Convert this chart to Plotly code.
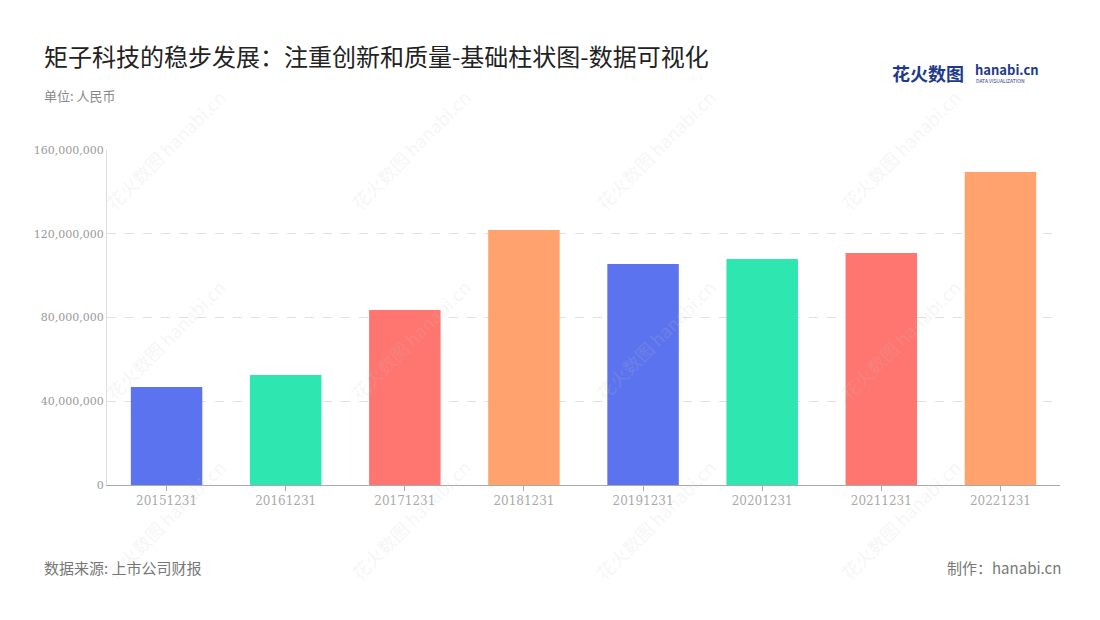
import plotly.graph_objects as go

categories = ["20151231","20161231","20171231","20181231","20191231","20201231","20211231","20221231"]
values = [46800000, 52500000, 83600000, 121800000, 105600000, 107900000, 110800000, 149500000]
colors = ["#5B73EE","#2EE6B0","#FF7570","#FFA26E","#5B73EE","#2EE6B0","#FF7570","#FFA26E"]
tick_vals = [0, 40000000, 80000000, 120000000, 160000000]
tick_text = ["0","40,000,000","80,000,000","120,000,000","160,000,000"]

font = "Noto Sans CJK SC"
OFF = 8  # browser body margin
L, R, T, B = 107, 40, 150, 135
fig = go.Figure(go.Bar(x=categories, y=values, marker=dict(color=colors, line=dict(width=0)), width=0.6))
fig.update_layout(
    width=1100, height=620, paper_bgcolor="white", plot_bgcolor="white",
    margin=dict(l=L-OFF, r=R+OFF, t=T-OFF, b=B+OFF), showlegend=False,
    font=dict(family=font),
    xaxis=dict(type="category", showline=True, linecolor="#aaaaaa", ticks="outside", ticklen=5,
               tickcolor="#aaaaaa", tickfont=dict(size=12, color="#aaaaaa", family="DejaVu Serif")),
    yaxis=dict(range=[0,160000000], tickvals=tick_vals, ticktext=tick_text, showgrid=True,
               gridcolor="#e0e0e0", griddash="dash", zeroline=False, showline=True, linecolor="#dddddd",
               tickfont=dict(size=11, color="#999999", family="DejaVu Serif"), ticks=""),
)
W, H = 1100-L-R, 620-T-B
def ann2(text, px, py, size, color, xanchor="left", angle=0):
    fig.add_annotation(text=text, x=(px-L)/W, y=(485-py)/H, xref="paper", yref="paper", showarrow=False,
                       xanchor=xanchor, yanchor="middle", textangle=angle,
                       font=dict(size=size, color=color, family=font))
for wx in [165, 410, 655, 900]:
    for wy in [150, 340, 520]:
        ann2("花火数图 hanabi.cn", wx, wy, 18, "rgba(200,200,200,0.18)", "center", -45)
ann2("矩子科技的稳步发展：注重创新和质量-基础柱状图-数据可视化", 42, 55, 24, "#222222")
ann2("单位: 人民币", 42, 96, 13, "#888888")
ann2("数据来源: 上市公司财报", 42, 567, 15, "#777777")
ann2("制作：hanabi.cn", 1063, 567, 15, "#777777", "right")
ann2("<b>花火数图</b>", 890, 73, 18, "#1f3a8a")
ann2("<b>hanabi.cn</b>", 973, 70, 13, "#1f3a8a")
ann2("DATA VISUALIZATION", 974, 80, 5, "#1f3a8a")
fig.write_html("out.html")
